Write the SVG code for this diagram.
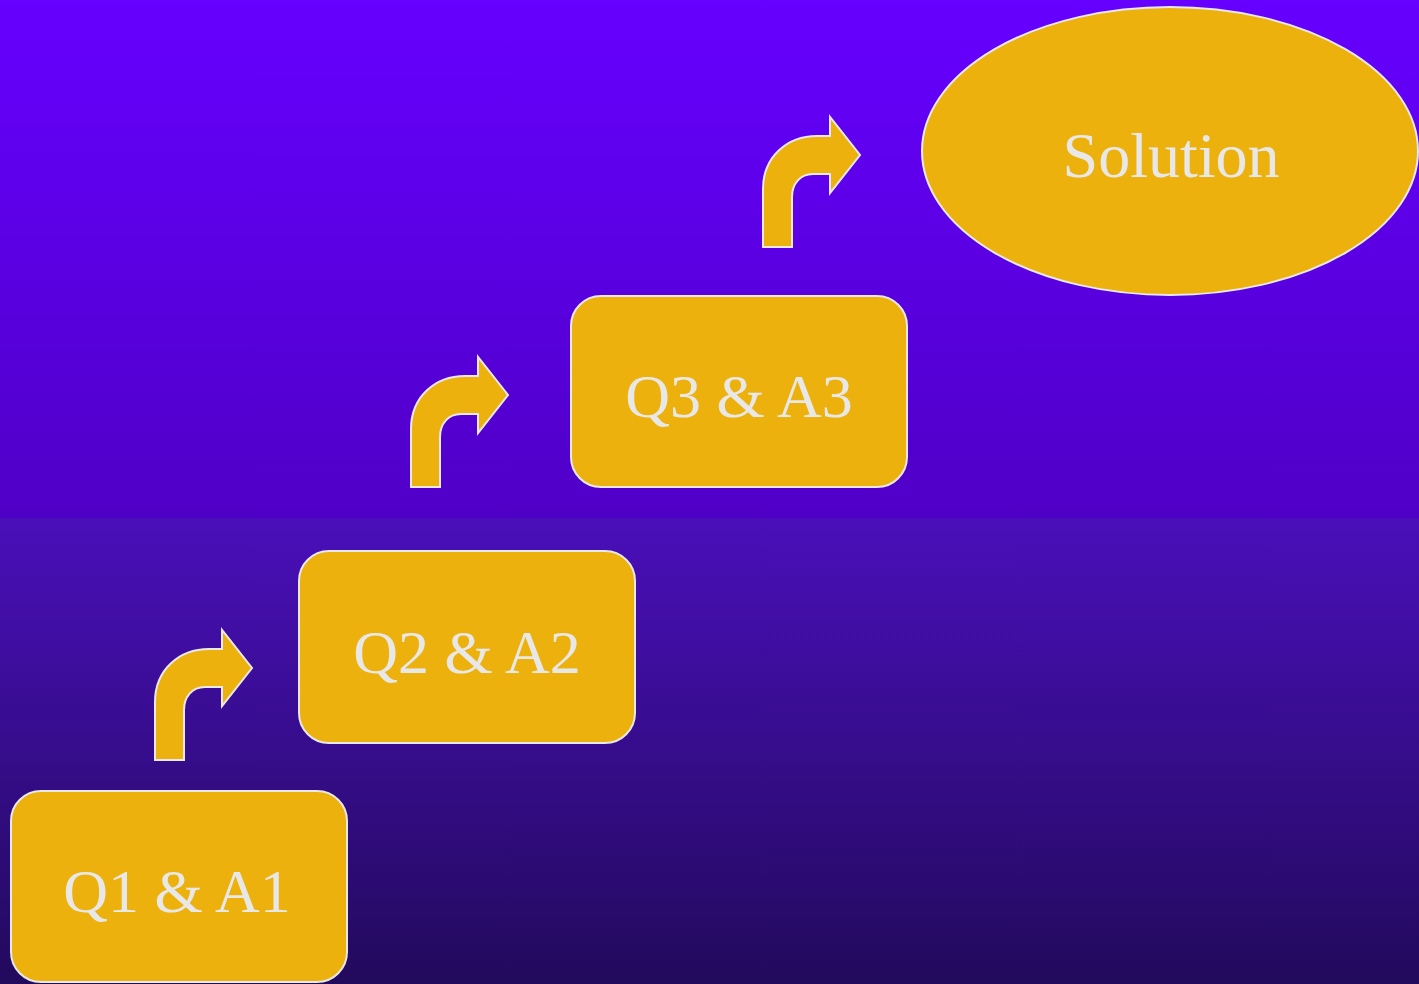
<svg xmlns="http://www.w3.org/2000/svg" xmlns:xlink="http://www.w3.org/1999/xlink" width="1419" height="984" viewBox="0 0 1419 984">
<style>
.node{fill:#EDB10D;stroke:#E8E8E8;stroke-width:2}
.lbl{font-family:"Liberation Serif","Times New Roman",serif;font-size:62px;fill:#E8E8E8;text-anchor:middle}
.big{font-size:64px}
.arr{fill:#EDB10D;stroke:#E8E8E8;stroke-width:2;stroke-linejoin:miter}
</style>
<defs>
<linearGradient id="bgTop" x1="0" y1="0" x2="0" y2="1">
<stop offset="0" stop-color="#6600FF"/>
<stop offset="1" stop-color="#4F00C6"/>
</linearGradient>
<linearGradient id="bgBot" x1="0" y1="0" x2="0" y2="1">
<stop offset="0" stop-color="#4A0FBA"/>
<stop offset="1" stop-color="#220A5C"/>
</linearGradient>
<path id="bent" d="M0,0 L0,-58 C0,-90 24,-111 54,-111 L67,-111 L67,-130 L97,-92 L67,-54 L67,-73 L50,-73 C37,-73 29,-63 29,-50 L29,0 Z"/>
</defs>
<rect x="0" y="0" width="1419" height="518" fill="url(#bgTop)"/>
<rect x="0" y="518" width="1419" height="466" fill="url(#bgBot)"/>
<g id="connectors">
<use xlink:href="#bent" class="arr" transform="translate(155,760)"/>
<use xlink:href="#bent" class="arr" transform="translate(411,487)"/>
<use xlink:href="#bent" class="arr" transform="translate(763,247)"/>
</g>
<g id="q1">
<rect class="node" x="11" y="791" width="336" height="191" rx="30"/>
<text class="lbl" x="177" y="912">Q1 &amp; A1</text>
</g>
<g id="q2">
<rect class="node" x="299" y="551" width="336" height="192" rx="30"/>
<text class="lbl" x="467" y="673">Q2 &amp; A2</text>
</g>
<g id="q3">
<rect class="node" x="571" y="296" width="336" height="191" rx="30"/>
<text class="lbl" x="739" y="417">Q3 &amp; A3</text>
</g>
<g id="solution">
<ellipse class="node" cx="1170" cy="151" rx="248" ry="144"/>
<text class="lbl big" x="1171" y="177">Solution</text>
</g>
</svg>
